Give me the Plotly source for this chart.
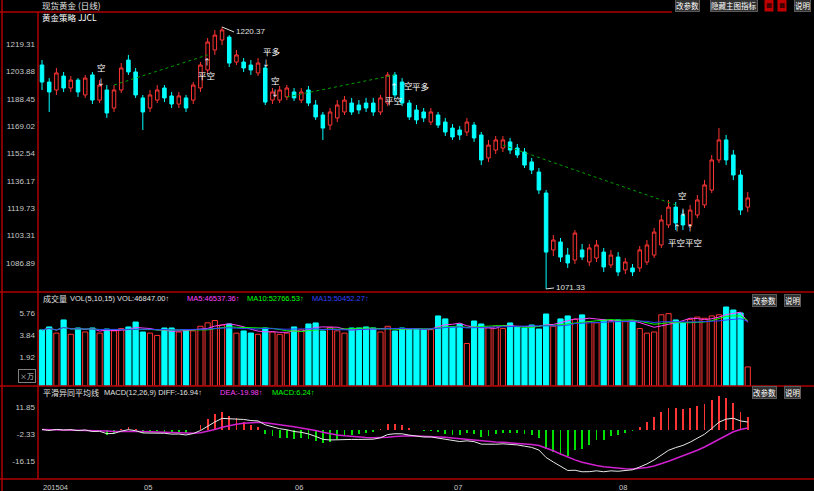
import plotly.graph_objects as go
import pandas as pd
import numpy as np

# ---------------- data ----------------
opens = [1206.6,1196.3,1191.5,1199.9,1192.7,1197.5,1188.5,1200.6,1185.4,1191.5,
         1180.6,1191.5,1209.6,1202.4,1186.7,1180.6,1185.4,1192.7,1187.9,1183.0,
         1186.7,1185.4,1192.7,1203.6,1215.7,1221.7,1223.5,1208.4,1208.4,1206.6,
         1201.8,1204.8,1185.4,1185.4,1187.3,1190.3,1185.4,1191.5,1182.4,1176.4,
         1170.3,1174.6,1178.2,1183.6,1182.4,1183.6,1183.6,1178.2,1183.6,1200.6,
         1196.3,1183.6,1179.4,1178.2,1172.1,1176.4,1172.1,1168.5,1167.3,1166.1,
         1170.3,1164.3,1150.4,1155.2,1156.4,1160.1,1156.4,1154.0,1148.0,1141.9,
         1129.2,1094.8,1099.6,1091.7,1088.7,1094.8,1087.5,1089.9,1093.5,1085.7,
         1090.5,1082.7,1083.9,1083.9,1087.5,1091.7,1097.8,1109.9,1120.7,1115.9,
         1109.9,1115.9,1122.0,1131.0,1149.2,1161.3,1152.2,1140.1,1120.7]
closes = [1196.3,1190.3,1201.8,1192.7,1197.5,1190.3,1198.7,1185.4,1194.5,1177.6,
          1191.5,1204.8,1202.4,1188.5,1178.2,1188.5,1191.5,1186.7,1183.0,1187.9,
          1180.6,1194.5,1206.6,1220.5,1224.7,1227.8,1207.8,1212.7,1204.8,1203.6,
          1207.8,1184.2,1190.3,1191.5,1192.7,1186.7,1190.3,1183.6,1175.2,1168.5,
          1178.2,1182.4,1185.4,1178.2,1179.4,1180.6,1178.2,1186.7,1200.6,1188.5,
          1183.6,1175.2,1173.4,1174.6,1178.2,1170.3,1166.1,1163.1,1164.3,1172.1,
          1162.5,1149.2,1158.2,1161.3,1161.3,1155.2,1152.2,1146.1,1143.1,1131.0,
          1093.5,1100.8,1090.5,1086.9,1105.0,1090.5,1096.0,1097.8,1084.5,1091.7,
          1081.5,1087.5,1081.5,1094.8,1097.8,1105.6,1112.9,1120.7,1111.1,1109.9,
          1118.9,1125.0,1134.1,1149.2,1161.3,1149.2,1140.1,1118.9,1126.2]
highs = [1209.6,1198.7,1204.8,1202.4,1199.9,1198.7,1200.6,1202.4,1197.5,1194.5,
         1194.5,1207.8,1212.7,1204.8,1188.5,1191.5,1194.5,1194.5,1190.3,1190.3,
         1188.5,1196.3,1208.4,1222.9,1227.8,1229.6,1224.7,1215.7,1210.8,1209.6,
         1210.8,1206.6,1192.7,1193.9,1194.5,1192.7,1192.7,1193.9,1185.4,1178.2,
         1180.6,1185.4,1187.9,1186.7,1185.4,1186.7,1186.7,1188.5,1202.4,1202.4,
         1198.7,1185.4,1182.4,1180.6,1180.6,1178.2,1174.6,1170.9,1169.7,1174.6,
         1172.1,1166.1,1161.3,1163.7,1163.7,1162.5,1158.8,1156.4,1150.4,1144.3,
         1131.0,1103.8,1102.0,1096.0,1106.8,1098.4,1098.4,1100.8,1096.0,1094.8,
         1093.5,1089.9,1086.3,1097.2,1100.8,1108.1,1115.9,1125.0,1123.8,1118.9,
         1122.0,1128.0,1137.1,1152.2,1168.5,1164.3,1155.2,1143.1,1129.8]
lows = [1191.5,1178.2,1188.5,1190.3,1190.3,1187.3,1186.7,1183.0,1183.6,1174.6,
        1178.2,1189.7,1200.6,1186.7,1167.3,1178.2,1183.6,1184.2,1180.6,1180.6,
        1178.2,1183.0,1190.3,1201.8,1212.7,1218.7,1205.4,1206.6,1202.4,1200.6,
        1199.9,1182.4,1183.0,1183.6,1185.4,1184.8,1183.6,1181.8,1173.4,1161.3,
        1167.3,1172.1,1176.4,1176.4,1177.0,1178.2,1175.8,1176.4,1181.8,1186.7,
        1181.8,1173.4,1170.9,1172.1,1170.3,1168.5,1163.7,1161.3,1161.3,1163.7,
        1160.1,1146.1,1148.0,1152.8,1154.0,1152.8,1150.4,1144.3,1140.7,1128.6,
        1071.2,1091.1,1087.5,1083.9,1086.3,1088.7,1085.1,1087.5,1081.5,1083.9,
        1079.0,1080.2,1079.0,1081.5,1085.7,1089.9,1096.0,1108.1,1106.8,1106.8,
        1108.1,1114.1,1120.1,1129.2,1147.4,1146.1,1137.1,1115.9,1117.7]
# volume, in units of 10 000
volumes = [4.28,4.54,4.00,5.15,3.90,4.45,4.10,4.45,4.00,4.36,
           4.20,4.40,4.54,4.97,4.10,4.00,3.80,4.45,4.45,4.10,
           4.28,4.20,4.60,4.90,5.10,4.70,4.80,4.00,4.19,4.01,
           3.90,4.45,4.10,3.90,4.00,4.54,4.30,4.80,4.89,4.19,
           4.50,4.20,4.00,4.45,4.45,4.54,4.45,4.10,4.60,4.19,
           4.45,4.36,4.36,4.28,4.30,5.50,5.24,4.54,4.80,3.10,
           5.06,4.80,4.50,4.60,4.40,4.89,4.54,4.45,4.71,4.36,
           5.67,4.60,5.24,5.50,5.20,5.59,5.00,4.90,5.15,5.00,
           5.15,5.00,5.06,4.40,4.00,4.10,5.60,5.70,5.15,4.89,
           5.20,5.40,5.30,5.50,5.60,6.28,6.02,5.76,1.05]

price_ticks = [1219.31,1202.76,1186.21,1169.66,1153.11,1136.56,1120.01,1103.46,1086.91]
price_tick_text = ["1219.31","1203.88","1188.45","1169.02","1152.54","1136.17","1119.73","1103.31","1086.89"]
vol_ticks = [5.76, 3.84, 1.92]
vol_tick_text = ["5.76", "3.84", "1.92"]
macd_ticks = [11.85, -2.33, -16.51]
macd_tick_text = ["11.85", "-2.33", "-16.15"]

month_start_idx = [0, 14, 35, 57, 80]
month_labels = ["201504", "05", "06", "07", "08"]

# strategy guide lines (bar index, price)
seg_a_x, seg_a_y = [10, 23], [1194.5, 1212.7]
seg_b_x, seg_b_y = [34, 49], [1187.3, 1200.6]
seg_c_x, seg_c_y = [64, 88], [1158.2, 1122.0]

# trading signals: (label, bar index, price)
signals = [("空", 8.2, 1205.4), ("↓", 8.2, 1196.9),
           ("平空", 22.9, 1200.6), ("↑", 22.9, 1209.0),
           ("平多", 31.9, 1215.1), ("↓", 31.1, 1208.4),
           ("空", 32.4, 1197.5), ("↓", 32.4, 1189.7),
           ("平空", 48.75, 1185.4), ("↑", 48.9, 1193.9),
           ("平多", 52.6, 1193.9), ("空", 50.9, 1194.5),
           ("空", 89.0, 1128.0), ("↓", 89.0, 1118.3),
           ("平空", 88.1, 1099.6), ("平空", 90.4, 1099.6),
           ("↑", 88.2, 1108.6), ("↑", 90.0, 1108.6)]

# ---------------- derived ----------------
n = len(closes)
idx = list(range(n))
up = [c >= o for o, c in zip(opens, closes)]
vol_s = pd.Series(volumes)
ma5 = vol_s.rolling(5, min_periods=1).mean()
ma10 = vol_s.rolling(10, min_periods=1).mean()
ma15 = vol_s.rolling(15, min_periods=1).mean()
cs = pd.Series(closes)
diff = cs.ewm(span=12, adjust=False).mean() - cs.ewm(span=26, adjust=False).mean()
dea = diff.ewm(span=9, adjust=False).mean()
macd = 2 * (diff - dea)

RED = "#ff3434"
CYAN = "#00ffff"
BORDER = "#b00000"
AXT = "#c8c8c8"
CJK = "Noto Sans CJK SC, Liberation Sans, sans-serif"
LAT = "Liberation Sans, DejaVu Sans, sans-serif"

fig = go.Figure()

fig.add_trace(go.Candlestick(
    x=idx, open=opens, high=highs, low=lows, close=closes,
    increasing=dict(line=dict(color=RED, width=1), fillcolor="#000000"),
    decreasing=dict(line=dict(color=CYAN, width=1), fillcolor=CYAN),
    whiskerwidth=0, xaxis="x", yaxis="y", showlegend=False, hoverinfo="skip"))

for sx, sy in [(seg_a_x, seg_a_y), (seg_b_x, seg_b_y), (seg_c_x, seg_c_y)]:
    fig.add_trace(go.Scatter(x=sx, y=sy, mode="lines",
                             line=dict(color="#00a000", width=1, dash="dot"),
                             xaxis="x", yaxis="y", showlegend=False, hoverinfo="skip"))

vol_base = -0.61
fig.add_trace(go.Bar(
    x=idx, y=[v - vol_base for v in volumes], base=vol_base, width=0.72,
    marker=dict(color=["#000000" if u else CYAN for u in up],
                line=dict(color=[RED if u else CYAN for u in up], width=1)),
    xaxis="x2", yaxis="y2", showlegend=False, hoverinfo="skip"))
for s, col in [(ma5, "#ff40ff"), (ma10, "#00ff00"), (ma15, "#3040ff")]:
    fig.add_trace(go.Scatter(x=idx, y=s, mode="lines", line=dict(color=col, width=1),
                             xaxis="x2", yaxis="y2", showlegend=False, hoverinfo="skip"))

fig.add_trace(go.Bar(
    x=idx, y=macd, width=0.25,
    marker=dict(color=[RED if m >= 0 else "#00e000" for m in macd], line=dict(width=0)),
    xaxis="x3", yaxis="y3", showlegend=False, hoverinfo="skip"))
fig.add_trace(go.Scatter(x=idx, y=dea, mode="lines", line=dict(color="#d020d0", width=1.5),
                         xaxis="x3", yaxis="y3", showlegend=False, hoverinfo="skip"))
fig.add_trace(go.Scatter(x=idx, y=diff, mode="lines", line=dict(color="#e8e8e8", width=1),
                         xaxis="x3", yaxis="y3", showlegend=False, hoverinfo="skip"))

xr = [-0.556, 107.2]
xcommon = dict(range=xr, showgrid=False, zeroline=False, showticklabels=False,
               showline=False, fixedrange=True, automargin=False)
ycommon = dict(showgrid=False, zeroline=False, showline=False, ticks="",
               tickfont=dict(color=AXT, size=8, family=LAT), fixedrange=True,
               automargin=False, ticklabelstandoff=2)

fig.update_layout(
    width=814, height=491, margin=dict(l=38, r=0, t=0, b=12, autoexpand=False),
    paper_bgcolor="#000000", plot_bgcolor="#000000", bargap=0,
    xaxis=dict(xcommon, anchor="y", rangeslider=dict(visible=False)),
    xaxis2=dict(xcommon, anchor="y2"),
    xaxis3=dict(xcommon, anchor="y3"),
    yaxis=dict(ycommon, domain=[0.3904, 0.9749], range=[1069.36, 1238.64],
               tickvals=price_ticks, ticktext=price_tick_text),
    yaxis2=dict(ycommon, domain=[0.1942, 0.3904], range=[-0.61, 7.59],
                tickvals=vol_ticks, ticktext=vol_tick_text),
    yaxis3=dict(ycommon, domain=[0.0, 0.1942], range=[-25.96, 22.88],
                tickvals=macd_ticks, ticktext=macd_tick_text),
)

def px_x(p):
    return (p - 38) / 776.0

def px_y(p):
    return (479 - p) / 479.0

shapes = []
for yy, x0, x1 in [(12, 0, 672), (292, 0, 814), (386, 0, 814), (479, 0, 814)]:
    shapes.append(dict(type="line", xref="paper", yref="paper",
                       x0=px_x(x0), x1=px_x(x1), y0=px_y(yy), y1=px_y(yy),
                       line=dict(color=BORDER, width=1.5)))
shapes.append(dict(type="line", xref="paper", yref="paper", x0=px_x(38), x1=px_x(38),
                   y0=px_y(12), y1=px_y(479), line=dict(color=BORDER, width=1.5)))
shapes.append(dict(type="line", xref="paper", yref="paper", x0=px_x(2), x1=px_x(2),
                   y0=px_y(0), y1=px_y(491), line=dict(color=BORDER, width=1.5)))
fig.update_layout(shapes=shapes)

ann = []
def txt(text, xp, yp, color="#e0e0e0", size=9, fam=CJK, anchor="left", **kw):
    d = dict(text=text, x=px_x(xp), y=px_y(yp), xref="paper", yref="paper",
             xanchor=anchor, yanchor="middle", showarrow=False,
             font=dict(color=color, size=size, family=fam))
    d.update(kw)
    ann.append(d)

txt("现货黄金 (日线)", 40, 5, size=8.5)
txt("黄金策略 JJCL", 40, 17, color="#ffffff", size=8.5)
# buttons
for label, cx, yy in [("改参数", 687, 5), ("隐藏主图指标", 734, 5), ("说明", 802, 5),
                      ("改参数", 764, 300), ("说明", 792, 300),
                      ("改参数", 764, 392), ("说明", 792, 392)]:
    txt(label, cx, yy, color="#ffffff", size=7.5, anchor="center",
        bgcolor="#303030", bordercolor="#5a5a5a", borderwidth=1, borderpad=0)
for cx in [769, 782]:
    txt("■", cx, 5, color="#400000", size=6, anchor="center",
        bgcolor="#c00000", borderpad=1)

# volume title
txt("成交量", 41, 298, color="#e0e0e0", size=8)
txt("VOL(5,10,15) VOL:46847.00↑", 68, 298, color="#e0e0e0", size=7.5, fam=LAT)
txt("MA5:46537.36↑", 185, 298, color="#ff40ff", size=7.5, fam=LAT)
txt("MA10:52766.53↑", 245, 298, color="#00ff00", size=7.5, fam=LAT)
txt("MA15:50452.27↑", 310, 298, color="#3040ff", size=7.5, fam=LAT)
txt("×万", 27, 376, color=AXT, size=7, anchor="center",
    bordercolor="#808080", borderwidth=1, borderpad=1)
# macd title
txt("平滑异同平均线", 41, 392, color="#e0e0e0", size=8)
txt("MACD(12,26,9) DIFF:-16.94↑", 102, 392, color="#e0e0e0", size=7.5, fam=LAT)
txt("DEA:-19.98↑", 218, 392, color="#ff40ff", size=7.5, fam=LAT)
txt("MACD:6.24↑", 270, 392, color="#00ff00", size=7.5, fam=LAT)

# month labels under the bottom pane
for i, lab in zip(month_start_idx, month_labels):
    ann.append(dict(text=lab, x=i - 0.1, y=px_y(481), xref="x3", yref="paper",
                    xanchor="left", yanchor="top", showarrow=False,
                    font=dict(color=AXT, size=7.5, family=LAT)))

# high / low markers
hi_i = int(np.argmax(highs))
lo_i = int(np.argmin(lows))
ann.append(dict(text="1220.37", x=hi_i, y=highs[hi_i], xref="x", yref="y",
                ax=12, ay=5, xanchor="left", yanchor="middle", showarrow=True,
                arrowhead=0, arrowwidth=1, arrowcolor="#e0e0e0",
                font=dict(color="#e0e0e0", size=8, family=LAT)))
ann.append(dict(text="1071.33", x=lo_i, y=lows[lo_i], xref="x", yref="y",
                ax=8, ay=-1, xanchor="left", yanchor="middle", showarrow=True,
                arrowhead=0, arrowwidth=1, arrowcolor="#e0e0e0",
                font=dict(color="#e0e0e0", size=8, family=LAT)))

for lab, xi, py in signals:
    ann.append(dict(text=lab, x=xi, y=py, xref="x", yref="y", xanchor="center",
                    yanchor="middle", showarrow=False,
                    font=dict(color="#ffffff", size=8.5 if lab not in "↑↓" else 8,
                              family=CJK)))

fig.update_layout(annotations=ann)
fig.write_html("out.html", config={"displayModeBar": False, "staticPlot": True},
               post_script="document.body.style.margin='0';document.body.style.overflow='hidden';")
